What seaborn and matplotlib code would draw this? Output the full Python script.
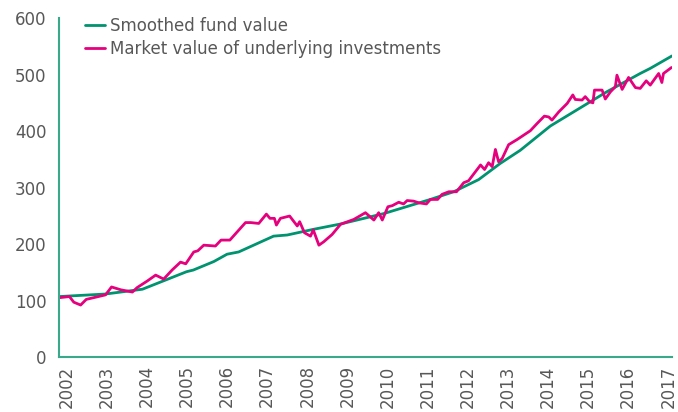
import pandas as pd
import matplotlib
matplotlib.use("Agg")
import matplotlib.pyplot as plt
import seaborn as sns

# smoothed fund value (decimal year, value)
smooth_year = [2001.81, 2002.97, 2003.89, 2004.99, 2005.16, 2005.67, 2006.00, 2006.29,
               2007.16, 2007.50, 2008.15, 2008.83, 2009.91, 2011.07, 2011.65, 2012.27,
               2012.81, 2013.31, 2014.06, 2014.64, 2015.47, 2016.30, 2016.55, 2017.09]
smooth_val = [107, 111.5, 120, 151, 154, 169, 182, 186,
              214, 216, 226, 235.5, 254, 279, 292.6, 314,
              342.7, 366, 409, 434, 469.7, 502, 511, 533]

# market value of underlying investments
market_year = [2001.81, 2002.07, 2002.18, 2002.35, 2002.49, 2002.97, 2003.12, 2003.35,
               2003.64, 2003.76, 2004.01, 2004.22, 2004.42, 2004.63, 2004.84, 2004.97,
               2005.17, 2005.27, 2005.42, 2005.71, 2005.85, 2006.07, 2006.46, 2006.59,
               2006.79, 2006.98, 2007.07, 2007.18, 2007.23, 2007.33, 2007.56, 2007.75,
               2007.81, 2007.93, 2008.08, 2008.15, 2008.29, 2008.41, 2008.62, 2008.83,
               2009.16, 2009.45, 2009.66, 2009.78, 2009.87, 2010.01, 2010.12, 2010.28,
               2010.40, 2010.49, 2010.65, 2010.78, 2010.97, 2011.07, 2011.25, 2011.36,
               2011.53, 2011.72, 2011.90, 2012.02, 2012.32, 2012.42, 2012.52, 2012.61,
               2012.69, 2012.77, 2012.86, 2013.02, 2013.23, 2013.56, 2013.73, 2013.91,
               2014.02, 2014.10, 2014.27, 2014.48, 2014.62, 2014.68, 2014.85, 2014.93,
               2015.04, 2015.12, 2015.16, 2015.35, 2015.43, 2015.56, 2015.68, 2015.72,
               2015.85, 2016.01, 2016.18, 2016.30, 2016.45, 2016.55, 2016.76, 2016.84,
               2016.88, 2016.97, 2017.08]
market_val = [105, 107, 97, 92, 102, 110, 124, 119,
              115, 123, 134.5, 145, 138, 154, 168, 165,
              186, 188, 198, 196.5, 207, 207, 238, 238,
              236.5, 253, 245.5, 245.5, 233.6, 245.5, 249.6, 232,
              239.6, 220, 214, 225, 198, 204, 217, 235,
              243.6, 255.5, 242.5, 255.5, 242.5, 266, 268, 274,
              271, 277, 276, 273, 271, 279, 279, 288,
              292.6, 292.6, 308.6, 312, 340, 332, 344, 337,
              367.5, 345.6, 351.6, 376, 385, 400.6, 413.5, 426.5,
              425, 419.5, 434, 449, 464, 456, 455, 461,
              452, 450, 472.6, 472.6, 456.8, 469.7, 478.5, 499,
              473.8, 495, 477, 475.6, 489, 481.4, 502, 486,
              502, 506.7, 512.6]

years = list(range(2002, 2018))
yticks = [0, 100, 200, 300, 400, 500, 600]

smooth_label = "Smoothed fund value"
market_label = "Market value of underlying investments"

df = pd.concat([
    pd.DataFrame({"year": smooth_year, "value": smooth_val, "series": smooth_label}),
    pd.DataFrame({"year": market_year, "value": market_val, "series": market_label}),
])

sns.set_style("white")
plt.rcParams['font.family'] = ['DejaVu Sans']

green = "#00936f"
pink = "#e5007d"
spine = "#3aa98b"
textc = "#585858"

fig = plt.figure(figsize=(6.78, 4.12), dpi=100)
ax = fig.add_axes([0.087, 0.1335, 0.904, 0.8225])

sns.lineplot(data=df, x="year", y="value", hue="series", ax=ax,
             palette={smooth_label: green, market_label: pink},
             hue_order=[smooth_label, market_label],
             linewidth=2.0, estimator=None, sort=False)

ax.set_xlim(min(smooth_year), max(smooth_year))
ax.set_ylim(0, 600)
ax.set_xticks(years)
ax.set_xticklabels([str(y) for y in years], rotation=90)
ax.set_yticks(yticks)
ax.set_xlabel("")
ax.set_ylabel("")
ax.tick_params(axis="both", length=0, labelsize=12, labelcolor=textc)
ax.tick_params(axis="y", pad=9)
ax.tick_params(axis="x", pad=6)

for s in ["top", "right"]:
    ax.spines[s].set_visible(False)
for s in ["left", "bottom"]:
    ax.spines[s].set_color(spine)
    ax.spines[s].set_linewidth(1.5)

leg = ax.legend(loc="upper left", bbox_to_anchor=(0.018, 1.048), frameon=False,
                fontsize=12, handlelength=1.2, handletextpad=0.3, labelspacing=0.3)
for t in leg.get_texts():
    t.set_color(textc)

fig.savefig("out.png", dpi=100)
